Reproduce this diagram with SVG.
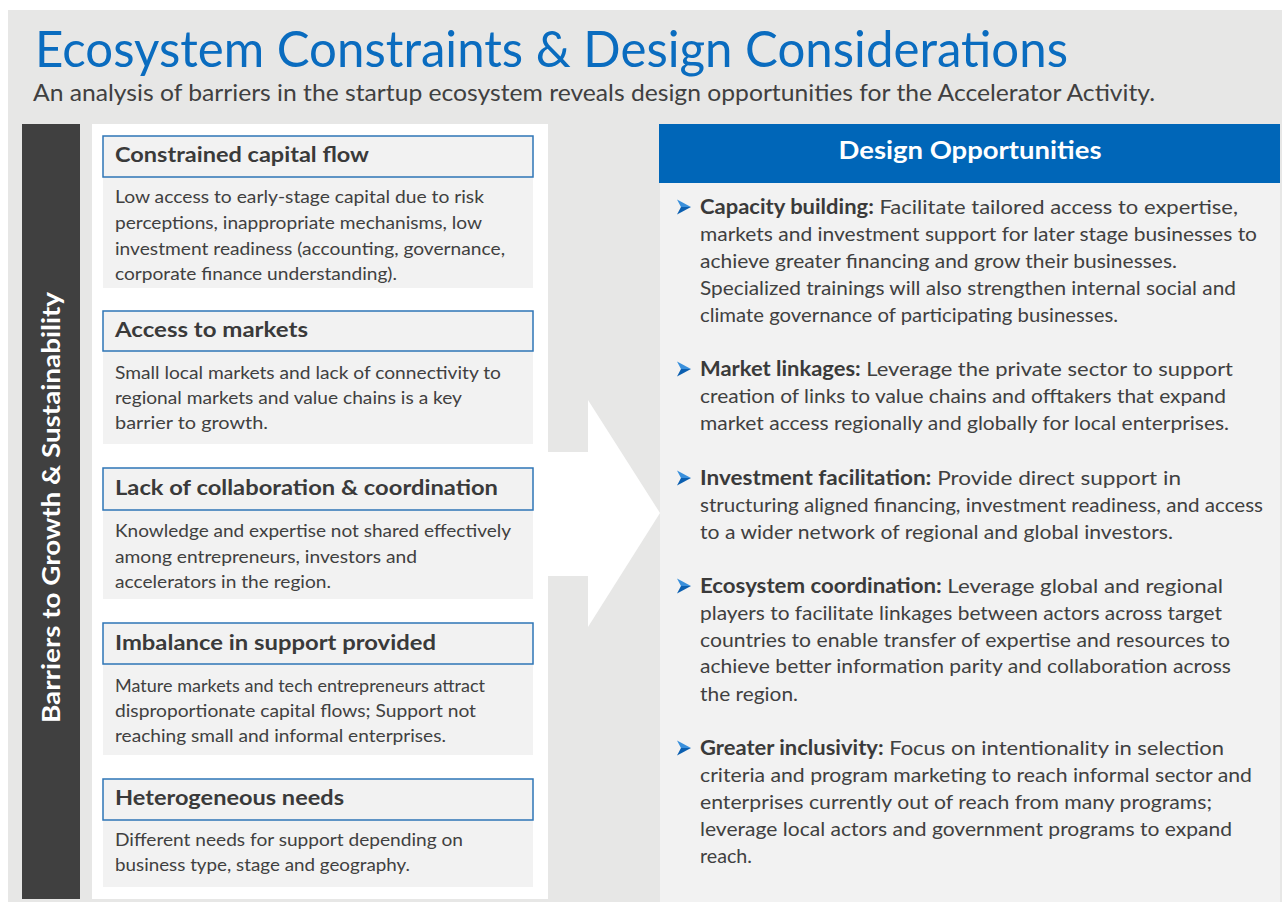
<svg xmlns="http://www.w3.org/2000/svg" width="1282" height="902" viewBox="0 0 1282 902">
<defs>
<style>
.t{font-family:Lato,"Liberation Sans",sans-serif;}
.title{font-size:50px;fill:#0a6cbf;}
.sub{font-size:24px;fill:#404040;}
.hd{font-size:20px;font-weight:bold;fill:#3a3a3a;}
.bd{font-size:18px;fill:#404040;}
.op{font-size:20px;fill:#404040;}
.b{font-weight:bold;fill:#3a3a3a;}
.hbox{fill:#f2f2f2;stroke:#2e75b6;stroke-width:1.5;}
.bbox{fill:#f2f2f2;}
</style>
<g id="mk">
<path d="M0,-7.5 L14,0 L4,0 Z" fill="#3a90dc"/>
<path d="M0,7.5 L14,0 L4,0 Z" fill="#0b5fb0"/>
</g>
</defs>
<rect x="0" y="0" width="1282" height="902" fill="#ffffff"/>
<rect x="8" y="10" width="1274" height="892" fill="#e7e7e6"/>
<g id="title">
<text class="t title" x="35" y="67" textLength="1033" lengthAdjust="spacingAndGlyphs">Ecosystem Constraints &amp; Design Considerations</text>
<text class="t sub" x="33" y="101" textLength="1122" lengthAdjust="spacingAndGlyphs">An analysis of barriers in the startup ecosystem reveals design opportunities for the Accelerator Activity.</text>
</g>
<g id="sidebar">
<rect x="22" y="124" width="58" height="775" fill="#404040"/>
<text class="t" transform="translate(60,507.5) rotate(-90)" text-anchor="middle" font-size="24" font-weight="bold" fill="#ffffff" textLength="431" lengthAdjust="spacingAndGlyphs">Barriers to Growth &amp; Sustainability</text>
</g>
<rect id="barrier-panel" x="92" y="124" width="456" height="775" fill="#ffffff"/>
<g id="connectors">
<path d="M547,452 L588,452 L588,400 L660,513 L588,627 L588,576 L547,576 Z" fill="#ffffff"/>
</g>
<g id="barrier-1">
<rect class="bbox" x="103" y="177" width="430" height="111"/>
<rect class="hbox" x="103" y="136" width="430" height="41"/>
<text class="t hd" x="115" y="162" textLength="254" lengthAdjust="spacingAndGlyphs">Constrained capital flow</text>
<text class="t bd" x="115" y="203" textLength="369" lengthAdjust="spacingAndGlyphs">Low access to early-stage capital due to risk</text>
<text class="t bd" x="115" y="229" textLength="367" lengthAdjust="spacingAndGlyphs">perceptions, inappropriate mechanisms, low</text>
<text class="t bd" x="115" y="255" textLength="390" lengthAdjust="spacingAndGlyphs">investment readiness (accounting, governance,</text>
<text class="t bd" x="115" y="280" textLength="282" lengthAdjust="spacingAndGlyphs">corporate finance understanding).</text>
</g>
<g id="barrier-2">
<rect class="bbox" x="103" y="351" width="430" height="93"/>
<rect class="hbox" x="103" y="311" width="430" height="40"/>
<text class="t hd" x="115" y="337" textLength="193" lengthAdjust="spacingAndGlyphs">Access to markets</text>
<text class="t bd" x="115" y="379" textLength="386" lengthAdjust="spacingAndGlyphs">Small local markets and lack of connectivity to</text>
<text class="t bd" x="115" y="404" textLength="347" lengthAdjust="spacingAndGlyphs">regional markets and value chains is a key</text>
<text class="t bd" x="115" y="429" textLength="153" lengthAdjust="spacingAndGlyphs">barrier to growth.</text>
</g>
<g id="barrier-3">
<rect class="bbox" x="103" y="510" width="430" height="89"/>
<rect class="hbox" x="103" y="468" width="430" height="42"/>
<text class="t hd" x="115" y="495" textLength="383" lengthAdjust="spacingAndGlyphs">Lack of collaboration &amp; coordination</text>
<text class="t bd" x="115" y="537" textLength="396" lengthAdjust="spacingAndGlyphs">Knowledge and expertise not shared effectively</text>
<text class="t bd" x="115" y="563" textLength="302" lengthAdjust="spacingAndGlyphs">among entrepreneurs, investors and</text>
<text class="t bd" x="115" y="588" textLength="216" lengthAdjust="spacingAndGlyphs">accelerators in the region.</text>
</g>
<g id="barrier-4">
<rect class="bbox" x="103" y="664" width="430" height="91"/>
<rect class="hbox" x="103" y="623" width="430" height="41"/>
<text class="t hd" x="115" y="650" textLength="321" lengthAdjust="spacingAndGlyphs">Imbalance in support provided</text>
<text class="t bd" x="115" y="692" textLength="370" lengthAdjust="spacingAndGlyphs">Mature markets and tech entrepreneurs attract</text>
<text class="t bd" x="115" y="717" textLength="361" lengthAdjust="spacingAndGlyphs">disproportionate capital flows; Support not</text>
<text class="t bd" x="115" y="742" textLength="331" lengthAdjust="spacingAndGlyphs">reaching small and informal enterprises.</text>
</g>
<g id="barrier-5">
<rect class="bbox" x="103" y="820" width="430" height="67"/>
<rect class="hbox" x="103" y="779" width="430" height="41"/>
<text class="t hd" x="115" y="805" textLength="229" lengthAdjust="spacingAndGlyphs">Heterogeneous needs</text>
<text class="t bd" x="115" y="846" textLength="348" lengthAdjust="spacingAndGlyphs">Different needs for support depending on</text>
<text class="t bd" x="115" y="871" textLength="295" lengthAdjust="spacingAndGlyphs">business type, stage and geography.</text>
</g>
<g id="opportunities">
<rect x="660" y="124" width="620" height="778" fill="#f2f2f2"/>
<rect x="659" y="124" width="621" height="59" fill="#0066b8"/>
<text class="t" x="970" y="159" text-anchor="middle" font-size="24" font-weight="bold" fill="#ffffff" textLength="263" lengthAdjust="spacingAndGlyphs">Design Opportunities</text>
<use href="#mk" x="677" y="207"/>
<text class="t op" x="700" y="214" textLength="538" lengthAdjust="spacingAndGlyphs"><tspan class="b">Capacity building:</tspan> Facilitate tailored access to expertise,</text>
<text class="t op" x="700" y="241" textLength="557" lengthAdjust="spacingAndGlyphs">markets and investment support for later stage businesses to</text>
<text class="t op" x="700" y="268" textLength="477" lengthAdjust="spacingAndGlyphs">achieve greater financing and grow their businesses.</text>
<text class="t op" x="700" y="295" textLength="536" lengthAdjust="spacingAndGlyphs">Specialized trainings will also strengthen internal social and</text>
<text class="t op" x="700" y="322" textLength="418" lengthAdjust="spacingAndGlyphs">climate governance of participating businesses.</text>
<use href="#mk" x="677" y="369"/>
<text class="t op" x="700" y="376" textLength="533" lengthAdjust="spacingAndGlyphs"><tspan class="b">Market linkages:</tspan> Leverage the private sector to support</text>
<text class="t op" x="700" y="403" textLength="526" lengthAdjust="spacingAndGlyphs">creation of links to value chains and offtakers that expand</text>
<text class="t op" x="700" y="430" textLength="529" lengthAdjust="spacingAndGlyphs">market access regionally and globally for local enterprises.</text>
<use href="#mk" x="677" y="478"/>
<text class="t op" x="700" y="485" textLength="481" lengthAdjust="spacingAndGlyphs"><tspan class="b">Investment facilitation:</tspan> Provide direct support in</text>
<text class="t op" x="700" y="512" textLength="563" lengthAdjust="spacingAndGlyphs">structuring aligned financing, investment readiness, and access</text>
<text class="t op" x="700" y="539" textLength="473" lengthAdjust="spacingAndGlyphs">to a wider network of regional and global investors.</text>
<use href="#mk" x="677" y="586"/>
<text class="t op" x="700" y="593" textLength="523" lengthAdjust="spacingAndGlyphs"><tspan class="b">Ecosystem coordination:</tspan> Leverage global and regional</text>
<text class="t op" x="700" y="620" textLength="522" lengthAdjust="spacingAndGlyphs">players to facilitate linkages between actors across target</text>
<text class="t op" x="700" y="647" textLength="530" lengthAdjust="spacingAndGlyphs">countries to enable transfer of expertise and resources to</text>
<text class="t op" x="700" y="673" textLength="531" lengthAdjust="spacingAndGlyphs">achieve better information parity and collaboration across</text>
<text class="t op" x="700" y="701" textLength="98" lengthAdjust="spacingAndGlyphs">the region.</text>
<use href="#mk" x="677" y="748"/>
<text class="t op" x="700" y="755" textLength="524" lengthAdjust="spacingAndGlyphs"><tspan class="b">Greater inclusivity:</tspan> Focus on intentionality in selection</text>
<text class="t op" x="700" y="782" textLength="552" lengthAdjust="spacingAndGlyphs">criteria and program marketing to reach informal sector and</text>
<text class="t op" x="700" y="809" textLength="512" lengthAdjust="spacingAndGlyphs">enterprises currently out of reach from many programs;</text>
<text class="t op" x="700" y="836" textLength="532" lengthAdjust="spacingAndGlyphs">leverage local actors and government programs to expand</text>
<text class="t op" x="700" y="863" textLength="52" lengthAdjust="spacingAndGlyphs">reach.</text>
</g>
</svg>
